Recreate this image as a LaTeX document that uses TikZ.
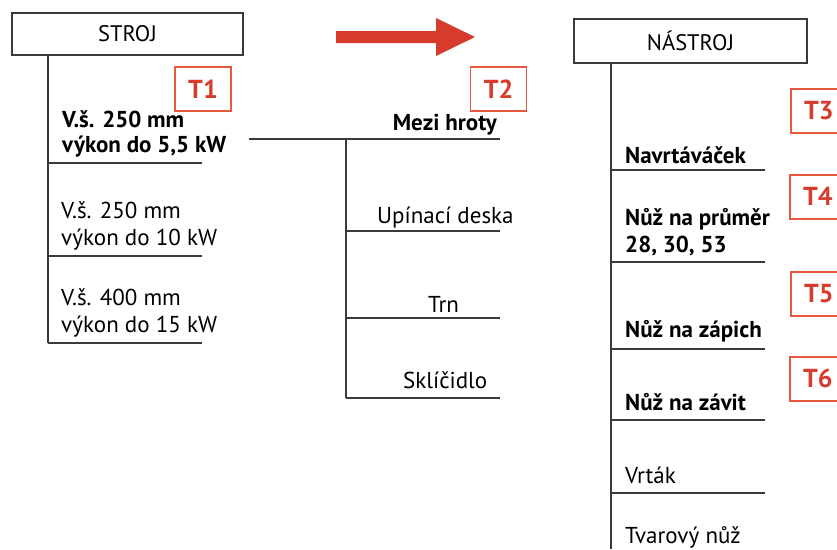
\documentclass[tikz,border=0pt]{standalone}
\usepackage{fontspec}
\setmainfont{PT Sans}
\definecolor{tred}{HTML}{D63B2C}
\definecolor{tbox}{HTML}{E8573E}
\definecolor{ln}{HTML}{3A3A36}
\begin{document}
\begin{tikzpicture}[x=1pt,y=-1pt,
  hdr/.style={draw=ln,line width=2pt,minimum width=231pt,minimum height=42pt,inner sep=0pt,font=\fontsize{22.5}{24}\selectfont},
  tag/.style={draw=tbox,line width=1.6pt,fill=white,minimum width=56pt,minimum height=44pt,inner sep=0pt,text=tred,font=\fontsize{26}{28}\selectfont\bfseries},
  lab/.style={inner sep=0pt,anchor=base west,font=\fontsize{23}{25}\selectfont},
  blab/.style={lab,font=\fontsize{23}{25}\selectfont\bfseries},
  conn/.style={draw=ln,line width=2pt}]
\useasboundingbox (0,0) rectangle (837,549);
% headers
\node[hdr] (stroj) at (127.5,34) {STROJ};
\node[hdr,minimum width=233pt,minimum height=44pt] (nastroj) at (690.5,41) {NÁSTROJ};
% arrow
\fill[tred] (336,31) -- (436,31) -- (436,18) -- (475,37) -- (436,56) -- (436,43) -- (336,43) -- cycle;
% left tree
\coordinate (sl) at (48,55);
\coordinate (sb) at (48,343);
\draw[conn] (sl) -- (sb);
\coordinate (s1a) at (48,163); \coordinate (s1b) at (202,163);
\coordinate (s2a) at (48,256); \coordinate (s2b) at (202,256);
\coordinate (s3a) at (48,343); \coordinate (s3b) at (202,343);
\draw[conn] (s1a) -- (s1b); \draw[conn] (s2a) -- (s2b); \draw[conn] (s3a) -- (s3b);
\node[blab] (v1a) at (62,127) {V.š. 250 mm};
\node[blab] (v1b) at (62,152) {výkon do 5,5 kW};
\node[lab] (v2a) at (61,218) {V.š. 250 mm};
\node[lab] (v2b) at (61,245) {výkon do 10 kW};
\node[lab] (v3a) at (61,305) {V.š. 400 mm};
\node[lab] (v3b) at (61,332) {výkon do 15 kW};
\node[tag] (t1) at (203,89) {T1};
% middle tree
\coordinate (m0) at (249,139); \coordinate (m0e) at (500,139);
\draw[conn] (m0) -- (m0e);
\coordinate (mt) at (346,139); \coordinate (mb) at (346,398);
\draw[conn] (mt) -- (mb);
\coordinate (m1a) at (346,231); \coordinate (m1b) at (500,231);
\coordinate (m2a) at (346,318); \coordinate (m2b) at (500,318);
\coordinate (m3a) at (346,398); \coordinate (m3b) at (500,398);
\draw[conn] (m1a) -- (m1b); \draw[conn] (m2a) -- (m2b); \draw[conn] (m3a) -- (m3b);
\node[blab,anchor=base east] (mezi) at (497,130) {Mezi hroty};
\node[lab] (upin) at (377,223) {Upínací deska};
\node[lab] (trn) at (428,312) {Trn};
\node[lab] (skl) at (403,388) {Sklíčidlo};
\node[tag] (t2) at (498.5,89) {T2};
% right tree
\coordinate (rt) at (611,63); \coordinate (rb) at (611,549);
\draw[conn] (rt) -- (rb);
\coordinate (r1a) at (611,170); \coordinate (r1b) at (765,170);
\coordinate (r2a) at (611,262); \coordinate (r2b) at (765,262);
\coordinate (r3a) at (611,349); \coordinate (r3b) at (765,349);
\coordinate (r4a) at (611,420); \coordinate (r4b) at (765,420);
\coordinate (r5a) at (611,493); \coordinate (r5b) at (765,493);
\draw[conn] (r1a) -- (r1b); \draw[conn] (r2a) -- (r2b); \draw[conn] (r3a) -- (r3b);
\draw[conn] (r4a) -- (r4b); \draw[conn] (r5a) -- (r5b);
\node[blab] (n1) at (625,163) {Navrtáváček};
\node[blab] (n2a) at (625,225) {Nůž na průměr};
\node[blab] (n2b) at (625,252) {28, 30, 53};
\node[blab] (n3) at (625,337) {Nůž na zápich};
\node[blab] (n4) at (625,410) {Nůž na závit};
\node[lab] (n5) at (625,483) {Vrták};
\node[lab] (n6) at (625,543) {Tvarový nůž};
\node[tag,anchor=north west] (t3) at (790,88) {T3};
\node[tag,anchor=north west] (t4) at (789,174) {T4};
\node[tag,anchor=north west] (t5) at (790,271) {T5};
\node[tag,anchor=north west] (t6) at (789,356) {T6};
\end{tikzpicture}
\end{document}
